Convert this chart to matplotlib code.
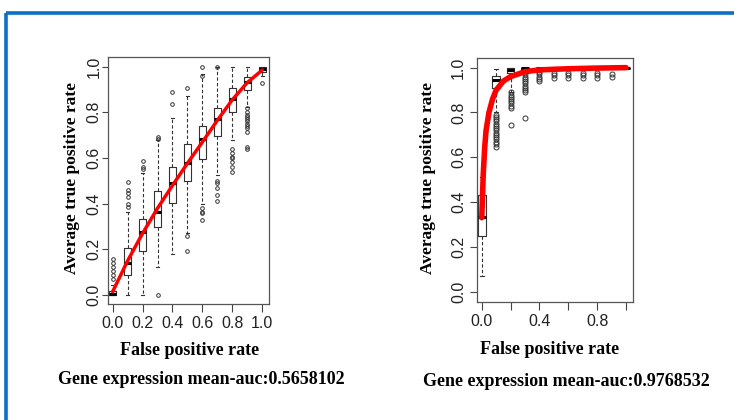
import matplotlib
matplotlib.use("Agg")
import matplotlib.pyplot as plt
from matplotlib.lines import Line2D

# ---------------- data: left panel ----------------
left_pos = [0.0, 0.1, 0.2, 0.3, 0.4, 0.5, 0.6, 0.7, 0.8, 0.9, 1.0]
left_q1 = [0.0, 0.09, 0.194, 0.299, 0.404, 0.50, 0.596, 0.698, 0.80, 0.898, 0.975]
left_med = [0.005, 0.142, 0.274, 0.365, 0.489, 0.58, 0.683, 0.771, 0.858, 0.934, 0.99]
left_q3 = [0.02, 0.204, 0.333, 0.457, 0.562, 0.66, 0.742, 0.818, 0.908, 0.956, 1.0]
left_lo = [0.0, 0.0, 0.0, 0.121, 0.182, 0.27, 0.40, 0.526, 0.68, 0.825, 0.96]
left_hi = [0.044, 0.365, 0.533, 0.679, 0.774, 0.872, 0.966, 1.0, 1.0, 1.0, 1.0]
left_out = [
    [0.16, 0.14, 0.124, 0.107, 0.088, 0.07],
    [0.496, 0.46, 0.445, 0.43, 0.40, 0.387],
    [0.587, 0.562, 0.55],
    [0.693, 0.683, 0.0],
    [0.89, 0.836],
    [0.908, 0.26, 0.194],
    [1.0, 0.96, 0.38, 0.365, 0.358, 0.33],
    [1.0, 0.50, 0.49, 0.47, 0.44, 0.41],
    [0.64, 0.62, 0.606, 0.60, 0.584, 0.56, 0.54],
    [0.818, 0.80, 0.79, 0.78, 0.77, 0.76, 0.75, 0.74, 0.73, 0.715, 0.65, 0.64],
    [0.93],
]
left_curve_x = [0.0, 0.1, 0.2, 0.3, 0.4, 0.5, 0.6, 0.7, 0.8, 0.9, 1.0]
left_curve_y = [0.015, 0.15, 0.27, 0.38, 0.48, 0.577, 0.67, 0.765, 0.855, 0.93, 0.985]
left_xticks = [0.0, 0.2, 0.4, 0.6, 0.8, 1.0]
left_xlabels = ["0.0", "0.2", "0.4", "0.6", "0.8", "1.0"]

# ---------------- data: right panel ----------------
right_pos = [0.0, 0.1, 0.2, 0.3, 0.4, 0.5, 0.6, 0.7, 0.8, 0.9, 1.0]
right_q1 = [0.249, 0.908, 0.975, 0.99, 1.0, 1.0, 1.0, 1.0, 1.0, 1.0, 1.0]
right_med = [0.335, 0.945, 0.99, 1.0, 1.0, 1.0, 1.0, 1.0, 1.0, 1.0, 1.0]
right_q3 = [0.432, 0.964, 0.997, 1.0, 1.0, 1.0, 1.0, 1.0, 1.0, 1.0, 1.0]
right_lo = [0.07, 0.80, 0.893, 0.985, 1.0, 1.0, 1.0, 1.0, 1.0, 1.0, 1.0]
right_hi = [0.51, 0.994, 1.0, 1.0, 1.0, 1.0, 1.0, 1.0, 1.0, 1.0, 1.0]
right_out = [
    [],
    [0.79, 0.78, 0.77, 0.76, 0.75, 0.74, 0.73, 0.72, 0.71, 0.70, 0.69, 0.68, 0.67, 0.66, 0.647],
    [0.89, 0.88, 0.87, 0.86, 0.85, 0.84, 0.83, 0.82, 0.744],
    [0.98, 0.97, 0.96, 0.95, 0.94, 0.93, 0.92, 0.91, 0.90, 0.89, 0.774],
    [0.99, 0.98, 0.97, 0.96, 0.95, 0.94],
    [0.975, 0.965, 0.955],
    [0.975, 0.965, 0.955],
    [0.975, 0.965, 0.955],
    [0.975, 0.965, 0.955],
    [0.97, 0.96],
    [],
]
right_curve_x = [0.0, 0.005, 0.01, 0.02, 0.03, 0.05, 0.075, 0.1, 0.15, 0.2, 0.3, 0.4, 0.6, 0.8, 1.0]
right_curve_y = [0.33, 0.42, 0.52, 0.64, 0.72, 0.80, 0.86, 0.90, 0.94, 0.96, 0.982, 0.99, 0.995, 0.998, 1.0]
right_xticks = [0.0, 0.2, 0.4, 0.6, 0.8, 1.0]
right_xlabels = ["0.0", "", "0.4", "", "0.8", ""]

yticks = [0.0, 0.2, 0.4, 0.6, 0.8, 1.0]
ylabels = ["0.0", "0.2", "0.4", "0.6", "0.8", "1.0"]
captions = ["Gene expression mean-auc:0.5658102", "Gene expression mean-auc:0.9768532"]

W, H = 734, 420
fig = plt.figure(figsize=(W / 100, H / 100), dpi=100)
fig.patch.set_facecolor("white")

def fx(x):
    return x / W

def fy(y):
    return 1 - y / H

SANS = "Liberation Sans"
SERIF = "Liberation Serif"


def make_panel(rect, pos, q1, med, q3, lo, hi, outs, cx, cy, xticks, xlabels,
               xlim, ylim, width, msize, lw_curve, ypad, ylen):
    ax = fig.add_axes(rect)
    stats = []
    for i in range(len(pos)):
        stats.append(dict(q1=q1[i], med=med[i], q3=q3[i], whislo=lo[i],
                          whishi=hi[i], fliers=outs[i]))
    ax.bxp(stats, positions=pos, widths=width, showfliers=True, manage_ticks=False,
           boxprops=dict(color="#333333", linewidth=0.8),
           whiskerprops=dict(color="#333333", linewidth=0.8, linestyle=(0, (3, 2))),
           capprops=dict(color="#333333", linewidth=0.8),
           medianprops=dict(color="black", linewidth=2.2),
           flierprops=dict(marker="o", markerfacecolor="none", markeredgecolor="#333333",
                           markersize=msize, markeredgewidth=0.7, linestyle="none"))
    ax.plot(cx, cy, color="red", linewidth=lw_curve, solid_capstyle="round", zorder=5)
    ax.set_xlim(*xlim)
    ax.set_ylim(*ylim)
    ax.set_xticks(xticks)
    ax.set_xticklabels(xlabels, fontfamily=SANS, fontsize=11.5, color="#222222")
    ax.set_yticks(yticks)
    ax.set_yticklabels(ylabels, fontfamily=SANS, fontsize=11.5, rotation=90, va="center",
                       color="#222222")
    ax.tick_params(axis="x", direction="out", length=6, width=0.8, color="#444444", pad=2.5)
    ax.tick_params(axis="y", direction="out", length=ylen, width=0.8, color="#444444", pad=ypad)
    for s in ax.spines.values():
        s.set_color("#555555")
        s.set_linewidth(0.9)
    return ax


# left panel
axL = make_panel([fx(108), fy(304), fx(161), 247 / H], left_pos, left_q1, left_med,
                 left_q3, left_lo, left_hi, left_out, left_curve_x, left_curve_y,
                 left_xticks, left_xlabels, (-0.031, 1.045), (-0.039, 1.042),
                 0.045, 2.6, 2.5, 0.0, 4.5)
# right panel
axR = make_panel([fx(476.7), fy(301.7), fx(156), 243.7 / H], right_pos, right_q1,
                 right_med, right_q3, right_lo, right_hi, right_out, right_curve_x,
                 right_curve_y, right_xticks, right_xlabels, (-0.035, 1.046),
                 (-0.045, 1.043), 0.053, 3.6, 4.0, 2.4, 5.2)

lab = dict(fontfamily=SERIF, fontweight="bold", fontsize=13, ha="center", va="center")
ylab = dict(lab, fontsize=12.5)
fig.text(fx(72), fy(177.5), "Average true positive rate", rotation=90, **ylab)
fig.text(fx(428), fy(177.5), "Average true positive rate", rotation=90, **ylab)
fig.text(fx(190), fy(350.7), "False positive rate", **lab)
fig.text(fx(550), fy(349), "False positive rate", **lab)
fig.text(fx(201), fy(379), captions[0], **lab)
fig.text(fx(566), fy(381.7), captions[1], **lab)

# blue frame
blue = "#0b6fc4"
fig.add_artist(Line2D([fx(6), 1.0], [fy(13), fy(13)], color=blue, linewidth=2.6,
                      solid_capstyle="butt"))
fig.add_artist(Line2D([fx(6), fx(6)], [fy(13), 0.0], color=blue, linewidth=2.6,
                      solid_capstyle="butt"))

fig.savefig("out.png", dpi=100)
